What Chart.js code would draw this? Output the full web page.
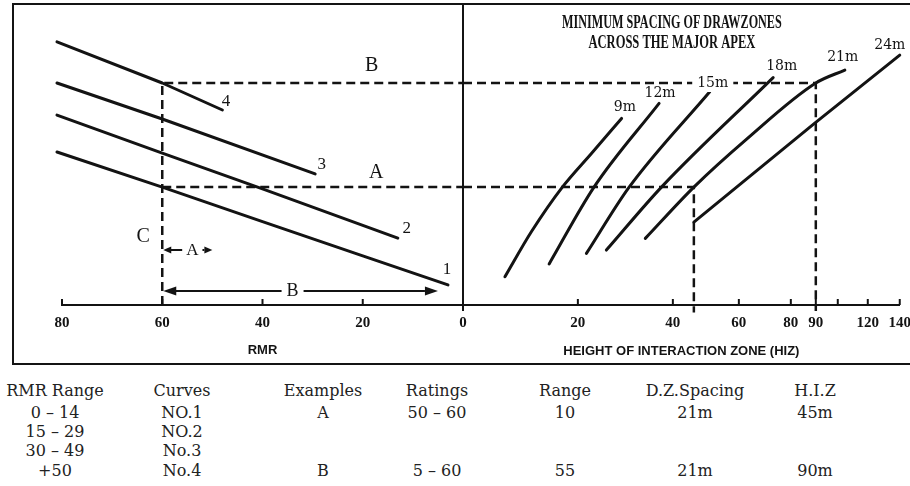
<!DOCTYPE html>
<html>
<head>
<meta charset="utf-8">
<title>Minimum spacing of drawzones across the major apex</title>
<script src="https://cdn.jsdelivr.net/npm/chart.js@4.4.1/dist/chart.umd.min.js"></script>
<style>
  html, body { margin: 0; padding: 0; background: #fff; width: 910px; height: 486px; overflow: hidden; position: relative; }
  #frame { position: absolute; left: 12px; top: 3px; width: 920px; height: 362px; border: 2px solid #141414; box-sizing: border-box; }
  #divider { position: absolute; left: 462px; top: 3px; width: 2px; height: 308px; background: #141414; }
  canvas { position: absolute; top: 0; }
  #rmrChart { left: 0; }
  #hizChart { left: 440px; }
  .cell { position: absolute; width: 140px; height: 20px; line-height: 20px; text-align: center; white-space: pre;
          font: 16px 'DejaVu Serif', 'Liberation Serif', serif; color: #222; }
</style>
</head>
<body>
<div id="frame"></div>
<div id="divider"></div>
<canvas id="rmrChart" width="480" height="372"></canvas>
<canvas id="hizChart" width="480" height="372"></canvas>
<div id="table"></div>

<script>
// ---------- axis ticks ----------
const rmrTicks = [80, 60, 40, 20, 0];
const hizTicks = [0, 20, 40, 60, 80, 90, 100, 120, 140];
const hizTickLabels = ['', '20', '40', '60', '80', '90', '', '120', '140'];

// ---------- RMR adjustment curves (left panel): RMR vs. level ----------
const curve1Rmr = [81, 60, 40, 20, 3];
const curve1Level = [51, 39.3, 27.8, 16.4, 6.7];
const curve2Rmr = [81, 60, 40, 13];
const curve2Level = [63.3, 50.6, 38.7, 22.3];
const curve3Rmr = [81, 60, 29.5];
const curve3Level = [74, 62.0, 43.7];
const curve4Rmr = [81, 60, 48];
const curve4Level = [87.7, 74, 65];

// ---------- drawzone spacing curves (right panel): HIZ vs. level ----------
const spacingNames = ['9m', '12m', '15m', '18m', '21m', '24m'];
const spacing9Hiz = [7.3, 11.9, 17.3, 22.9, 29.2];
const spacing9Level = [9.4, 24.4, 39.3, 50.6, 62.2];
const spacing12Hiz = [15.0, 23.4, 37.1];
const spacing12Level = [13.7, 39.3, 67.2];
const spacing15Hiz = [21.8, 30.8, 50.3];
const spacing15Level = [17.2, 39.3, 71.1];
const spacing18Hiz = [26.0, 37.6, 73.2];
const spacing18Level = [18.3, 39.3, 75.8];
const spacing21Hiz = [34.2, 45, 63, 90, 104.7];
const spacing21Level = [22.2, 39.3, 55.3, 74, 78.3];
const spacing24Hiz = [45, 89.6, 140];
const spacing24Level = [27.6, 60.6, 83.3];

// ---------- worked examples ----------
const exampleNames = ['A', 'B'];
const exampleRatingLow = [50, 5];
const exampleRatingHigh = [60, 60];
const exampleRange = [10, 55];
const exampleLevel = [39.3, 74];
const exampleSpacing = ['21m', '21m'];
const exampleHiz = [45, 90];

// ---------- summary table ----------
const tableHeads = ['RMR Range', 'Curves', 'Examples', 'Ratings', 'Range', 'D.Z.Spacing', 'H.I.Z'];
const rmrRanges = ['0 \u2013 14', '15 \u2013 29', '30 \u2013 49', '+50'];
const curveRows = ['NO.1', 'NO.2', 'No.3', 'No.4'];

// ---------- styling ----------
const INK = '#131313';
const SERIF = "'Liberation Serif', 'DejaVu Serif', serif";
const DVSERIF = "'DejaVu Serif', 'Liberation Serif', serif";
const SANS = "'Liberation Sans', 'DejaVu Sans', sans-serif";

// HIZ axis is graduated unevenly: value -> fraction of the axis length
const hizBreaks = {
  values:    [0, 20,    40,     45,     60,     80,     90,     100,    120,    140],
  fractions: [0, 0.263, 0.4805, 0.5286, 0.6316, 0.7506, 0.8078, 0.8581, 0.9268, 1]
};

class PiecewiseScale extends Chart.LinearScale {
  static id = 'piecewise';
  _fraction(v) {
    const vs = hizBreaks.values, fs = hizBreaks.fractions, n = vs.length;
    let i = 1;
    while (i < n - 1 && v > vs[i]) i++;
    return fs[i - 1] + (v - vs[i - 1]) / (vs[i] - vs[i - 1]) * (fs[i] - fs[i - 1]);
  }
  getPixelForValue(v) {
    return v === null || v === undefined ? NaN : this.getPixelForDecimal(this._fraction(v));
  }
  getValueForPixel(p) {
    const f = this.getDecimalForPixel(p);
    const vs = hizBreaks.values, fs = hizBreaks.fractions, n = vs.length;
    let i = 1;
    while (i < n - 1 && f > fs[i]) i++;
    return vs[i - 1] + (f - fs[i - 1]) / (fs[i] - fs[i - 1]) * (vs[i] - vs[i - 1]);
  }
}
Chart.register(PiecewiseScale);

const pts = (xs, ys) => xs.map((x, i) => ({ x, y: ys[i] }));

function solid(data, smooth) {
  const ds = { data, borderColor: INK, borderWidth: 3, pointRadius: 0, fill: false,
               tension: 0, clip: false, borderCapStyle: 'round', borderJoinStyle: 'round' };
  if (smooth) ds.cubicInterpolationMode = 'monotone';
  return ds;
}
function dashed(data) {
  return { data, borderColor: INK, borderWidth: 2.5, borderDash: [9, 5], pointRadius: 0,
           fill: false, tension: 0, clip: false };
}

function drawNote(ctx, xs, ys, it) {
  const px = xs.getPixelForValue(it.x), py = ys.getPixelForValue(it.y);
  ctx.font = it.font;
  const sx = it.squeeze || 1;
  const w = ctx.measureText(it.text).width * sx;
  if (it.knockout) {
    ctx.fillStyle = '#fff';
    ctx.fillRect(px - w / 2 - it.knockout, py - 9, w + 2 * it.knockout, 18);
  }
  ctx.save();
  ctx.translate(px, py);
  ctx.scale(sx, 1);
  ctx.fillStyle = INK;
  ctx.textAlign = 'center';
  ctx.textBaseline = 'middle';
  ctx.fillText(it.text, 0, 0);
  ctx.restore();
}

function drawArrow(ctx, xs, ys, a) {
  const x0 = xs.getPixelForValue(a.from), x1 = xs.getPixelForValue(a.to);
  const py = ys.getPixelForValue(a.y), lx = xs.getPixelForValue(a.labelAt);
  const dir = Math.sign(x1 - x0);
  ctx.font = a.font;
  const half = ctx.measureText(a.label).width / 2 + a.gap;
  const len = a.head[0], hw = a.head[1];
  ctx.strokeStyle = INK; ctx.fillStyle = INK; ctx.lineWidth = 2;
  ctx.beginPath();
  ctx.moveTo(x0 + dir * len, py); ctx.lineTo(lx - dir * half, py);
  ctx.moveTo(lx + dir * half, py); ctx.lineTo(x1 - dir * len, py);
  ctx.stroke();
  [[x0 + dir, dir], [x1, -dir]].forEach(([tip, d]) => {
    ctx.beginPath();
    ctx.moveTo(tip, py);
    ctx.lineTo(tip + d * len, py - hw);
    ctx.lineTo(tip + d * len, py + hw);
    ctx.closePath();
    ctx.fill();
  });
  ctx.textAlign = 'center'; ctx.textBaseline = 'middle';
  ctx.fillText(a.label, lx, py);
}

// tick marks pointing up into the plot, arrows and free labels
const notesPlugin = {
  id: 'notes',
  afterDatasetsDraw(chart, args, opts) {
    const { ctx } = chart;
    const xs = chart.scales.x, ys = chart.scales.y;
    ctx.save();
    ctx.strokeStyle = INK; ctx.lineWidth = 2;
    xs.ticks.forEach(t => {
      const px = xs.getPixelForValue(t.value);
      ctx.beginPath(); ctx.moveTo(px, xs.top); ctx.lineTo(px, xs.top - opts.tickUp); ctx.stroke();
    });
    (opts.arrows || []).forEach(a => drawArrow(ctx, xs, ys, a));
    (opts.items || []).forEach(it => drawNote(ctx, xs, ys, it));
    ctx.restore();
  }
};

const tickFont = { family: SERIF, size: 15, weight: 'bold' };
const titleFont = { family: SANS, size: 13, weight: 'bold' };

function axisOptions(extra) {
  return Object.assign({
    afterFit: s => { s.height = 67; },
    grid: { display: false, drawTicks: false },
    border: { display: true, color: INK, width: 2 },
    ticks: { color: INK, font: tickFont, padding: 9, maxRotation: 0, autoSkip: false },
  }, extra);
}

const baseOptions = (padding, xScale, notes) => ({
  responsive: false,
  animation: false,
  events: [],
  layout: { padding },
  plugins: { legend: { display: false }, tooltip: { enabled: false }, notes },
  scales: { x: xScale, y: { type: 'linear', min: 0, max: 100, display: false } }
});

// ---------- left panel: RMR ----------
const [lvA, lvB] = exampleLevel;
new Chart(document.getElementById('rmrChart'), {
  type: 'line',
  data: {
    datasets: [
      dashed([{ x: exampleRatingHigh[1], y: 0 }, { x: exampleRatingHigh[1], y: lvB }, { x: 0, y: lvB }]),
      dashed([{ x: exampleRatingHigh[0], y: lvA }, { x: 0, y: lvA }]),
      solid(pts(curve1Rmr, curve1Level)),
      solid(pts(curve2Rmr, curve2Level)),
      solid(pts(curve3Rmr, curve3Level)),
      solid(pts(curve4Rmr, curve4Level))
    ]
  },
  options: baseOptions({ left: 62, right: 17, top: 5, bottom: 0 },
    axisOptions({
      type: 'linear', reverse: true, min: 0, max: 80,
      afterBuildTicks: s => { s.ticks = rmrTicks.map(v => ({ value: v })); },
      title: { display: true, text: 'RMR', color: INK, font: titleFont, padding: { top: 0, bottom: 14 } }
    }),
    {
      tickUp: 6,
      arrows: [
        { from: exampleRatingHigh[0], to: exampleRatingLow[0], y: 18.3, label: exampleNames[0], labelAt: 54,
          font: '17px ' + SERIF, gap: 4, head: [8, 3.5] },
        { from: exampleRatingHigh[1], to: exampleRatingLow[1], y: 4.7, label: exampleNames[1], labelAt: 34,
          font: '18px ' + SERIF, gap: 5, head: [13, 4.5] }
      ],
      items: [
        { x: 47.3, y: 67.8, text: '4', font: '17px ' + SERIF },
        { x: 28.2, y: 46.7, text: '3', font: '17px ' + SERIF },
        { x: 11.2, y: 25.6, text: '2', font: '17px ' + SERIF },
        { x: 3.2, y: 11.7, text: '1', font: '17px ' + SERIF },
        { x: 18.2, y: 79.8, text: exampleNames[1], font: '20px ' + SERIF },
        { x: 17.3, y: 44.1, text: exampleNames[0], font: '20px ' + SERIF },
        { x: 63.8, y: 22.6, text: 'C', font: '20px ' + SERIF }
      ]
    }),
  plugins: [notesPlugin]
});

// ---------- right panel: height of interaction zone ----------
const curveLabelFont = '14px ' + DVSERIF;
const headFont = 'bold 19px ' + SERIF;
new Chart(document.getElementById('hizChart'), {
  type: 'line',
  data: {
    datasets: [
      dashed([{ x: 0, y: lvA }, { x: exampleHiz[0], y: lvA }, { x: exampleHiz[0], y: -2.5 }]),
      dashed([{ x: 0, y: lvB }, { x: exampleHiz[1], y: lvB }, { x: exampleHiz[1], y: -2 }]),
      solid(pts(spacing9Hiz, spacing9Level), true),
      solid(pts(spacing12Hiz, spacing12Level), true),
      solid(pts(spacing15Hiz, spacing15Level), true),
      solid(pts(spacing18Hiz, spacing18Level), true),
      solid(pts(spacing21Hiz, spacing21Level), true),
      solid(pts(spacing24Hiz, spacing24Level), false)
    ]
  },
  options: baseOptions({ left: 23, right: 20, top: 5, bottom: 0 },
    axisOptions({
      type: 'piecewise', min: 0, max: 140,
      afterBuildTicks: s => { s.ticks = hizTicks.map(v => ({ value: v })); },
      ticks: { color: INK, font: tickFont, padding: 9, maxRotation: 0, autoSkip: false,
               callback: (v, i) => hizTickLabels[i] },
      title: { display: true, text: 'HEIGHT OF INTERACTION ZONE (HIZ)', color: INK, font: titleFont,
               padding: { top: 0, bottom: 13 } }
    }),
    {
      tickUp: 6,
      items: [
        { x: 39.8, y: 94, text: 'MINIMUM SPACING OF DRAWZONES', font: headFont, squeeze: 0.64 },
        { x: 39.8, y: 87.3, text: 'ACROSS THE MAJOR APEX', font: headFont, squeeze: 0.66 },
        { x: 29.9, y: 66, text: spacingNames[0], font: curveLabelFont },
        { x: 37.3, y: 70.7, text: spacingNames[1], font: curveLabelFont },
        { x: 51.3, y: 74, text: spacingNames[2], font: curveLabelFont, knockout: 5 },
        { x: 76.5, y: 79.7, text: spacingNames[3], font: curveLabelFont },
        { x: 103.3, y: 82.7, text: spacingNames[4], font: curveLabelFont },
        { x: 133.8, y: 86.7, text: spacingNames[5], font: curveLabelFont }
      ]
    }),
  plugins: [notesPlugin]
});

// ---------- summary table below the chart ----------
(function buildTable() {
  const colCenters = [55, 182, 323, 437, 565, 695, 815];
  const rowCenters = [391, 413, 432, 451, 471];
  const at = (pair) => ['', '', '', ''].map((_, r) => r === 0 ? pair[0] : r === 3 ? pair[1] : '');
  const columns = [
    rmrRanges,
    curveRows,
    at(exampleNames),
    at(exampleRatingLow.map((lo, k) => lo + ' \u2013 ' + exampleRatingHigh[k])),
    at(exampleRange.map(String)),
    at(exampleSpacing),
    at(exampleHiz.map(h => h + 'm'))
  ];
  const host = document.getElementById('table');
  const put = (text, cx, cy) => {
    const d = document.createElement('div');
    d.className = 'cell';
    d.textContent = text;
    d.style.left = (cx - 70) + 'px';
    d.style.top = (cy - 10) + 'px';
    host.appendChild(d);
  };
  tableHeads.forEach((h, c) => put(h, colCenters[c], rowCenters[0]));
  columns.forEach((col, c) => col.forEach((t, r) => { if (t) put(t, colCenters[c], rowCenters[r + 1]); }));
})();
</script>
</body>
</html>
